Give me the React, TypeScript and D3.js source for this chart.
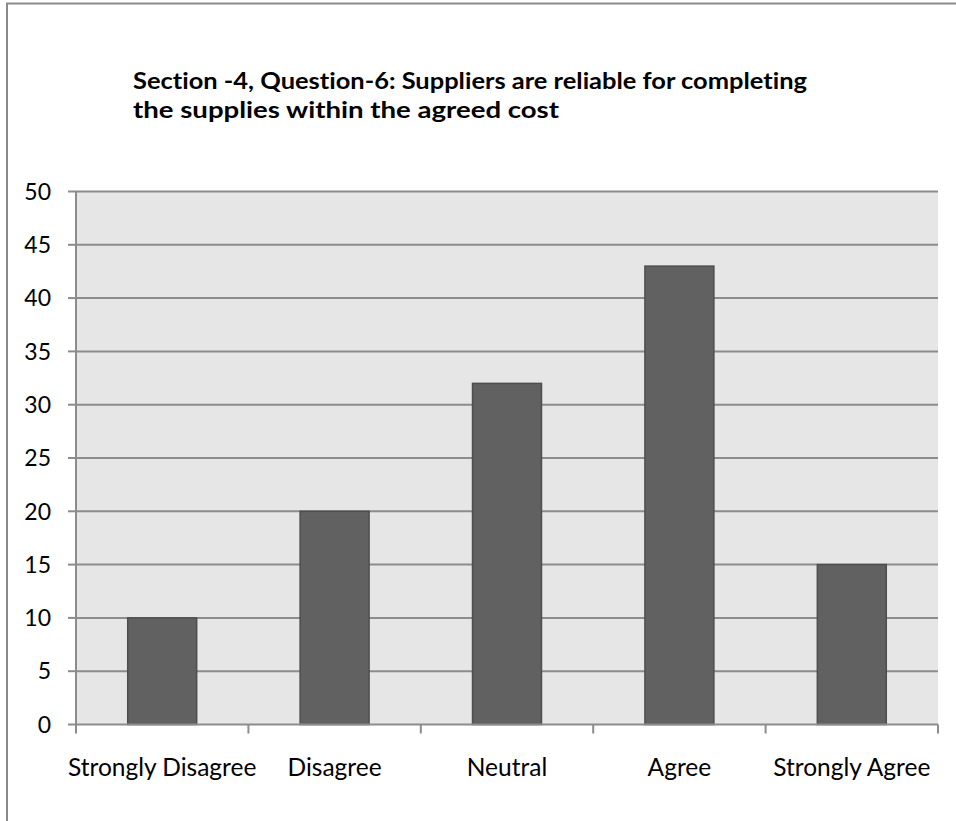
import React from "react";
import * as d3 from "d3";

const categories = ["Strongly Disagree", "Disagree", "Neutral", "Agree", "Strongly Agree"];
const values = [10, 20, 32, 43, 15];
const yTicks = [0, 5, 10, 15, 20, 25, 30, 35, 40, 45, 50];
const titleLines = [
  "Section -4, Question-6: Suppliers are reliable for completing",
  "the supplies within the agreed cost",
];

const W = 956;
const H = 821;
const plot = { left: 76, right: 938, top: 191.5, bottom: 724.5 };
const FONT = "Lato, 'Open Sans', sans-serif";
const noLig = { fontVariantLigatures: "none", fontFeatureSettings: "'liga' 0, 'clig' 0" } as React.CSSProperties;

export default function App() {
  const x = d3
    .scaleBand<string>()
    .domain(categories)
    .range([plot.left, plot.right])
    .paddingInner(0.6)
    .paddingOuter(0.3);
  const y = d3.scaleLinear().domain([0, 50]).range([plot.bottom, plot.top]);
  const step = x.step();
  const boundaries = d3.range(categories.length + 1).map((i) => plot.left + i * step);

  return (
    <svg
      width={W}
      height={H}
      style={{ position: "absolute", left: 0, top: 0, background: "#fff", ...noLig }}
      fontFamily={FONT}
    >
      {/* chart frame */}
      <rect x={7} y={3.5} width={W + 20} height={H + 20} fill="none" stroke="#8a8a8a" strokeWidth={2} />

      {/* title */}
      <g fontWeight={700} fontSize={23} fill="#000">
        <text x={133} y={89} textLength={674} lengthAdjust="spacingAndGlyphs">
          {titleLines[0]}
        </text>
        <text x={133} y={118} textLength={426} lengthAdjust="spacingAndGlyphs">
          {titleLines[1]}
        </text>
      </g>

      {/* plot area */}
      <rect
        x={plot.left}
        y={plot.top}
        width={plot.right - plot.left}
        height={plot.bottom - plot.top}
        fill="#e6e6e6"
      />

      {/* gridlines and y ticks */}
      {yTicks.map((t) => (
        <g key={t}>
          {t > 0 && (
            <line x1={plot.left} x2={plot.right} y1={y(t)} y2={y(t)} stroke="#8c8c8c" strokeWidth={2} />
          )}
          <line x1={68} x2={plot.left} y1={y(t)} y2={y(t)} stroke="#8c8c8c" strokeWidth={2} />
          <text x={51} y={y(t)} dy="0.36em" textAnchor="end" fontSize={23} fill="#000">
            {t}
          </text>
        </g>
      ))}

      {/* bars */}
      {categories.map((c, i) => (
        <rect
          key={c}
          x={x(c)}
          y={y(values[i])}
          width={x.bandwidth()}
          height={y(0) - y(values[i])}
          fill="#616161"
          stroke="#4e4e4e"
          strokeWidth={1.5}
        />
      ))}

      {/* axes */}
      <line x1={plot.left} x2={plot.left} y1={plot.top} y2={plot.bottom + 8} stroke="#8c8c8c" strokeWidth={2} />
      <line x1={plot.left} x2={plot.right} y1={plot.bottom} y2={plot.bottom} stroke="#8c8c8c" strokeWidth={2} />
      {boundaries.map((b, i) => (
        <line key={i} x1={b} x2={b} y1={plot.bottom} y2={plot.bottom + 9} stroke="#8c8c8c" strokeWidth={2} />
      ))}

      {/* category labels */}
      {categories.map((c) => (
        <text
          key={c}
          x={(x(c) as number) + x.bandwidth() / 2}
          y={776}
          textAnchor="middle"
          fontSize={24.5}
          fill="#000"
        >
          {c}
        </text>
      ))}
    </svg>
  );
}
